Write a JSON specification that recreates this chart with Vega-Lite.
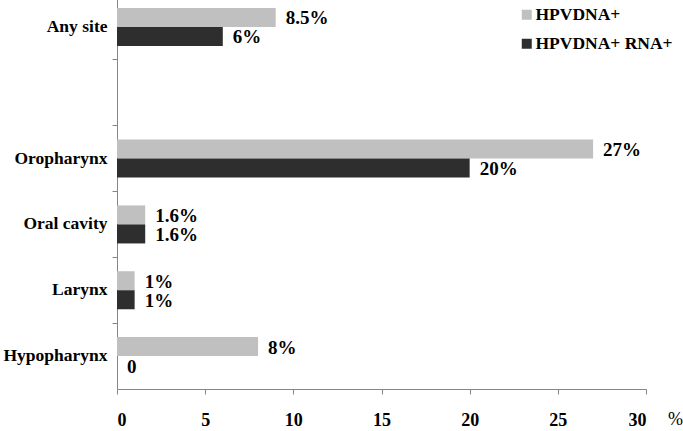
{
  "$schema": "https://vega.github.io/schema/vega-lite/v6.json",
  "width": 529,
  "height": 389,
  "autosize": {"type": "none"},
  "padding": {"left": 117, "top": 0, "right": 37, "bottom": 42},
  "background": "white",
  "config": {"view": {"stroke": null}, "font": "Liberation Serif"},
  "data": {"values": [
    {"site": "Any site", "series": "HPVDNA+", "value": 9, "label": "8.5%"},
    {"site": "Any site", "series": "HPVDNA+ RNA+", "value": 6, "label": "6%"},
    {"site": "Oropharynx", "series": "HPVDNA+", "value": 27, "label": "27%"},
    {"site": "Oropharynx", "series": "HPVDNA+ RNA+", "value": 20, "label": "20%"},
    {"site": "Oral cavity", "series": "HPVDNA+", "value": 1.6, "label": "1.6%"},
    {"site": "Oral cavity", "series": "HPVDNA+ RNA+", "value": 1.6, "label": "1.6%"},
    {"site": "Larynx", "series": "HPVDNA+", "value": 1, "label": "1%"},
    {"site": "Larynx", "series": "HPVDNA+ RNA+", "value": 1, "label": "1%"},
    {"site": "Hypopharynx", "series": "HPVDNA+", "value": 8, "label": "8%"},
    {"site": "Hypopharynx", "series": "HPVDNA+ RNA+", "value": 0, "label": "0"}
  ]},
  "encoding": {
    "y": {
      "field": "site",
      "type": "nominal",
      "title": null,
      "scale": {
        "domain": ["Any site", " ", "Oropharynx", "Oral cavity", "Larynx", "Hypopharynx"],
        "range": [-6, 389],
        "paddingInner": 0,
        "paddingOuter": 0
      },
      "axis": {
        "bandPosition": 0,
        "domainColor": "#868686",
        "tickColor": "#868686",
        "tickSize": 5,
        "labelPadding": 5,
        "labelFont": "Liberation Serif",
        "labelFontSize": 17.5,
        "labelFontWeight": "bold",
        "labelColor": "black"
      }
    },
    "yOffset": {"field": "series", "scale": {"domain": ["HPVDNA+", "HPVDNA+ RNA+"], "paddingInner": 0, "paddingOuter": 0.73}},
    "x": {
      "field": "value",
      "type": "quantitative",
      "scale": {"domain": [0, 30], "nice": false},
      "axis": {
        "values": [0, 5, 10, 15, 20, 25, 30],
        "grid": false,
        "title": "%",
        "titleX": 558,
        "titleY": 30,
        "titleAlign": "center",
        "titleBaseline": "middle",
        "titleFont": "Liberation Serif",
        "titleFontSize": 18,
        "titleFontWeight": "normal",
        "titleColor": "black",
        "domainColor": "#868686",
        "tickColor": "#868686",
        "tickSize": 5,
        "labelPadding": 17,
        "labelFont": "Liberation Serif",
        "labelFontSize": 18,
        "labelFontWeight": "bold",
        "labelColor": "black"
      }
    }
  },
  "layer": [
    {
      "mark": {"type": "bar"},
      "encoding": {
        "color": {
          "field": "series",
          "type": "nominal",
          "scale": {"domain": ["HPVDNA+", "HPVDNA+ RNA+"], "range": ["#c0c0c0", "#2e2e2e"]},
          "legend": {
            "title": null,
            "orient": "none",
            "legendX": 401,
            "legendY": 6,
            "symbolType": "square",
            "symbolSize": 100,
            "symbolStrokeWidth": 0,
            "rowPadding": 10,
            "labelFont": "Liberation Serif",
            "labelFontSize": 17.5,
            "labelFontWeight": "bold",
            "labelColor": "black",
            "labelOffset": 0
          }
        }
      }
    },
    {
      "mark": {"type": "text", "align": "left", "baseline": "middle", "dx": 10, "dy": 1, "fontSize": 19, "fontWeight": "bold", "font": "Liberation Serif", "color": "black"},
      "encoding": {"text": {"field": "label"}}
    }
  ]
}
